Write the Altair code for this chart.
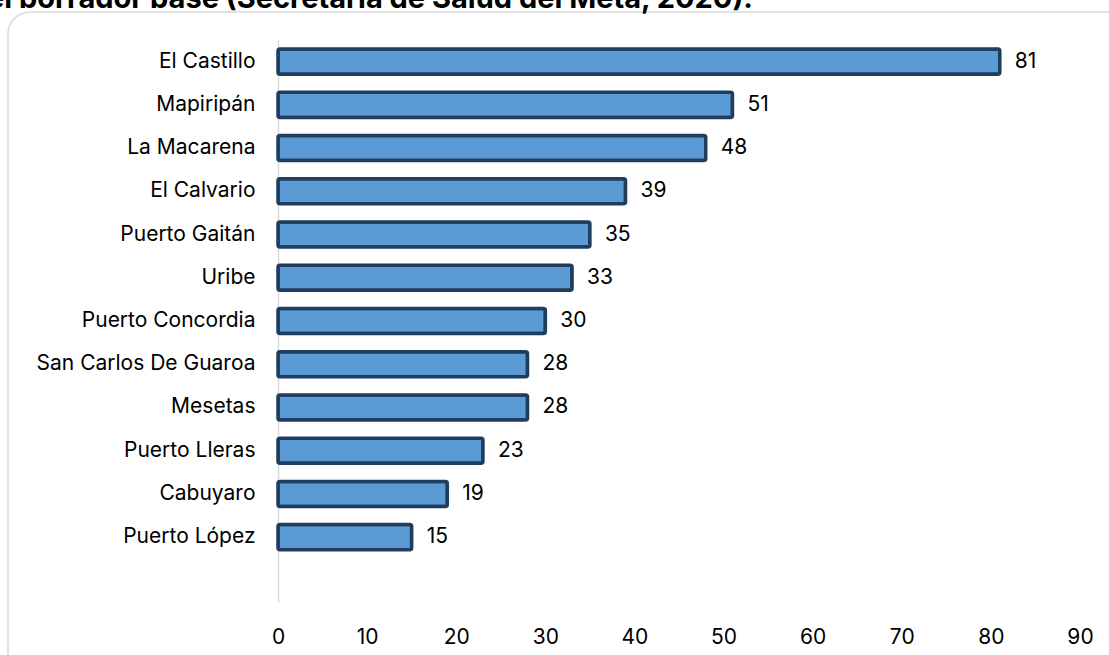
import altair as alt
import pandas as pd

municipios = [
    "El Castillo", "Mapiripán", "La Macarena", "El Calvario", "Puerto Gaitán",
    "Uribe", "Puerto Concordia", "San Carlos De Guaroa", "Mesetas",
    "Puerto Lleras", "Cabuyaro", "Puerto López",
]
valores = [81, 51, 48, 39, 35, 33, 30, 28, 28, 23, 19, 15]
x_ticks = [0, 10, 20, 30, 40, 50, 60, 70, 80, 90]
titulo = "el borrador base (Secretaría de Salud del Meta, 2020)."

FONT = "Inter"
FS = 21
df = pd.DataFrame({"municipio": municipios, "valor": valores})
# one blank slot below the last bar
dominio_y = municipios + [" "]

W, H = 802, 562

y_enc = alt.Y(
    "municipio:N",
    sort=dominio_y,
    scale=alt.Scale(domain=dominio_y, paddingInner=0.42, paddingOuter=0.21),
    axis=alt.Axis(
        title=None, ticks=False, domain=True, domainColor="#D9D9D9",
        domainWidth=1.5, labelFontSize=FS, labelColor="#000000",
        labelFont=FONT, labelPadding=23, labelLimit=400, grid=False,
    ),
)
x_enc = alt.X(
    "valor:Q",
    scale=alt.Scale(domain=[0, 90], nice=False),
    axis=alt.Axis(
        title=None, values=x_ticks, ticks=False, domain=False, grid=False,
        labelFontSize=FS, labelColor="#000000", labelFont=FONT, labelPadding=24,
        labelFlush=False,
    ),
)

bars = alt.Chart(df).mark_bar(
    color="#5B9BD5", stroke="#203D5E", strokeWidth=3.5, cornerRadius=2
).encode(x=x_enc, y=y_enc)

labels = alt.Chart(df).mark_text(
    align="left", baseline="middle", dx=15, fontSize=FS, font=FONT, color="#000000"
).encode(x="valor:Q", y=alt.Y("municipio:N", sort=dominio_y), text="valor:Q")

marco = alt.Chart(pd.DataFrame({"k": [0]})).mark_rect(
    fill=None, fillOpacity=0, stroke="#D9D9D9", strokeWidth=1.5, cornerRadius=22
).encode(
    x=alt.value(-270), x2=alt.value(900), y=alt.value(-28), y2=alt.value(700)
)

cabecera = alt.Chart(pd.DataFrame({"t": [titulo]})).mark_text(
    align="right", baseline="alphabetic", fontSize=29, fontWeight="bold",
    font=FONT, color="#000000"
).encode(x=alt.value(753 - 278), y=alt.value(8 - 40), text="t:N")

chart = (
    alt.layer(marco, bars, labels, cabecera)
    .properties(
        width=W, height=H,
        padding={"left": 278, "top": 40, "right": 29, "bottom": 53},
        autosize=alt.AutoSizeParams(type="none"),
        background="#FFFFFF",
    )
    .configure_view(stroke=None)
)

chart.save("out.html", embed_options={"renderer": "svg", "actions": False})
